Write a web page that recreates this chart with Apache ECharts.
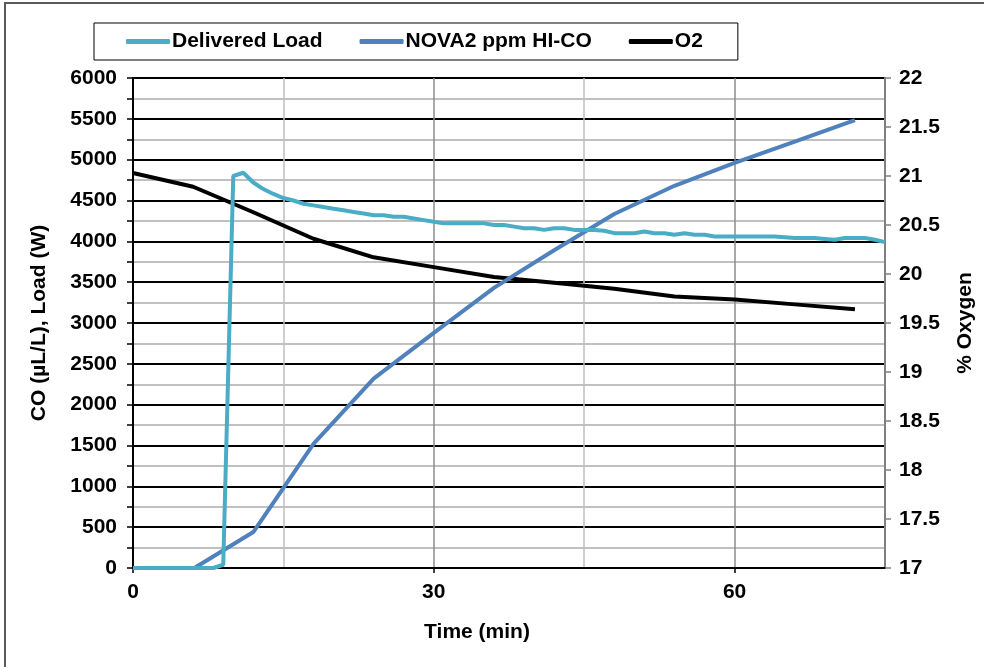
<!DOCTYPE html>
<html>
<head>
<meta charset="utf-8">
<script src="https://cdn.jsdelivr.net/npm/echarts@6/dist/echarts.min.js"></script>
<style>
  html, body { margin: 0; padding: 0; background: #fff; }
  #chart { width: 984px; height: 667px; }
</style>
</head>
<body>
<div id="chart"></div>
<script>
// Delivered Load (W), read roughly once a minute
var loadTime = [0, 8, 9, 10, 11, 12, 13, 14, 15, 16, 17, 18, 19, 20, 21, 22, 23, 24, 25, 26, 27, 28, 29, 30,
  31, 32, 33, 34, 35, 36, 37, 38, 39, 40, 41, 42, 43, 44, 45, 46, 47, 48, 49, 50, 51, 52, 53, 54, 55, 56,
  57, 58, 59, 60, 61, 62, 63, 64, 65, 66, 67, 68, 69, 70, 71, 72, 73, 74, 75];
var loadValues = [0, 0, 40, 4800, 4840, 4720, 4640, 4580, 4530, 4500, 4460, 4440, 4420, 4400, 4380, 4360, 4340, 4320, 4320, 4300, 4300, 4280, 4260, 4240,
  4220, 4220, 4220, 4220, 4220, 4200, 4200, 4180, 4160, 4160, 4140, 4160, 4160, 4140, 4140, 4140, 4130, 4100, 4100, 4100, 4120, 4100, 4100, 4080, 4100, 4080,
  4080, 4060, 4060, 4060, 4060, 4060, 4060, 4060, 4050, 4040, 4040, 4040, 4030, 4020, 4040, 4040, 4040, 4020, 3990];

// NOVA2 ppm HI-CO, every 6 minutes
var coTime = [0, 6, 12, 18, 24, 30, 36, 42, 48, 54, 60, 66, 72];
var coValues = [-30, -10, 440, 1520, 2320, 2880, 3430, 3890, 4335, 4680, 4960, 5220, 5485];

// O2 (%), every 6 minutes, right axis
var o2Time = [0, 6, 12, 18, 24, 30, 36, 42, 48, 54, 60, 66, 72];
var o2Values = [21.03, 20.89, 20.63, 20.36, 20.17, 20.07, 19.97, 19.91, 19.85, 19.77, 19.74, 19.69, 19.64];

var seriesNames = ['Delivered Load', 'NOVA2 ppm HI-CO', 'O2'];

function pairs(xs, ys) {
  var out = [];
  for (var i = 0; i < xs.length; i++) out.push([xs[i], ys[i]]);
  return out;
}

var font = 'Liberation Sans, Arial, sans-serif';
var lbl = { color: '#000', fontFamily: font, fontWeight: 'bold', fontSize: 21 };

var option = {
  animation: false,
  backgroundColor: '#fff',
  graphic: [{
    type: 'rect',
    shape: { x: 5, y: 3, width: 1000, height: 700 },
    style: { fill: 'none', stroke: '#5a5a5a', lineWidth: 2 },
    silent: true
  }],
  legend: {
    data: seriesNames,
    left: 94,
    top: 23,
    padding: [8, 35, 8, 32],
    itemGap: 37,
    itemWidth: 44,
    itemHeight: 5,
    icon: 'roundRect',
    borderColor: '#000',
    borderWidth: 1,
    textStyle: { color: '#000', fontFamily: font, fontWeight: 'bold', fontSize: 21, padding: [0, 0, 0, -3] }
  },
  grid: { left: 133, right: 96, top: 78, bottom: 99 },
  xAxis: {
    type: 'value',
    min: 0,
    max: 75,
    interval: 30,
    name: 'Time (min)',
    nameLocation: 'middle',
    nameGap: 54,
    nameTextStyle: Object.assign({}, lbl, { padding: [0, 64, 0, 0] }),
    axisLine: { onZero: false, lineStyle: { color: '#000', width: 2 } },
    axisTick: { show: true, length: 5, lineStyle: { color: '#000', width: 1.5 } },
    axisLabel: Object.assign({}, lbl, { margin: 14, showMaxLabel: false }),
    splitLine: { show: true, lineStyle: { color: '#8c8c8c', width: 1.5 } },
    minorTick: { show: false, splitNumber: 2 },
    minorSplitLine: { show: true, lineStyle: { color: '#c0c0c0', width: 1.5 } }
  },
  yAxis: [{
    type: 'value',
    min: 0,
    max: 6000,
    interval: 500,
    name: 'CO (\u00b5L/L), Load (W)',
    nameLocation: 'middle',
    nameRotate: 90,
    nameGap: 83,
    nameTextStyle: lbl,
    axisLine: { show: true, lineStyle: { color: '#000', width: 2 } },
    axisTick: { show: true, length: 6, lineStyle: { color: '#000', width: 1.5 } },
    minorTick: { show: true, splitNumber: 2, length: 6, lineStyle: { color: '#000', width: 1.5 } },
    axisLabel: Object.assign({}, lbl, { margin: 16, formatter: function (v) { return String(v); } }),
    splitLine: { show: true, lineStyle: { color: '#000', width: 2 } },
    minorSplitLine: { show: true, lineStyle: { color: '#c0c0c0', width: 2 } }
  }, {
    type: 'value',
    min: 17,
    max: 22,
    interval: 0.5,
    position: 'right',
    name: '% Oxygen',
    nameLocation: 'middle',
    nameRotate: 90,
    nameGap: 70,
    nameTextStyle: lbl,
    axisLine: { show: true, lineStyle: { color: '#808080', width: 2 } },
    axisTick: { show: true, length: 6, lineStyle: { color: '#808080', width: 1.5 } },
    axisLabel: Object.assign({}, lbl, { margin: 14, formatter: function (v) { return String(v); } }),
    splitLine: { show: false }
  }],
  series: [{
    name: 'O2',
    type: 'line',
    yAxisIndex: 1,
    data: pairs(o2Time, o2Values),
    showSymbol: false,
    lineStyle: { color: '#000', width: 4 },
    itemStyle: { color: '#000' },
    z: 2
  }, {
    name: 'NOVA2 ppm HI-CO',
    type: 'line',
    data: pairs(coTime, coValues),
    showSymbol: false,
    lineStyle: { color: '#4f81bd', width: 4 },
    itemStyle: { color: '#4f81bd' },
    z: 3
  }, {
    name: 'Delivered Load',
    type: 'line',
    data: pairs(loadTime, loadValues),
    showSymbol: false,
    lineStyle: { color: '#4bacc6', width: 4 },
    itemStyle: { color: '#4bacc6' },
    z: 4
  }]
};

var chart = echarts.init(document.getElementById('chart'));
chart.setOption(option);
window.addEventListener('resize', function () {
  chart.resize();
});
</script>
</body>
</html>
